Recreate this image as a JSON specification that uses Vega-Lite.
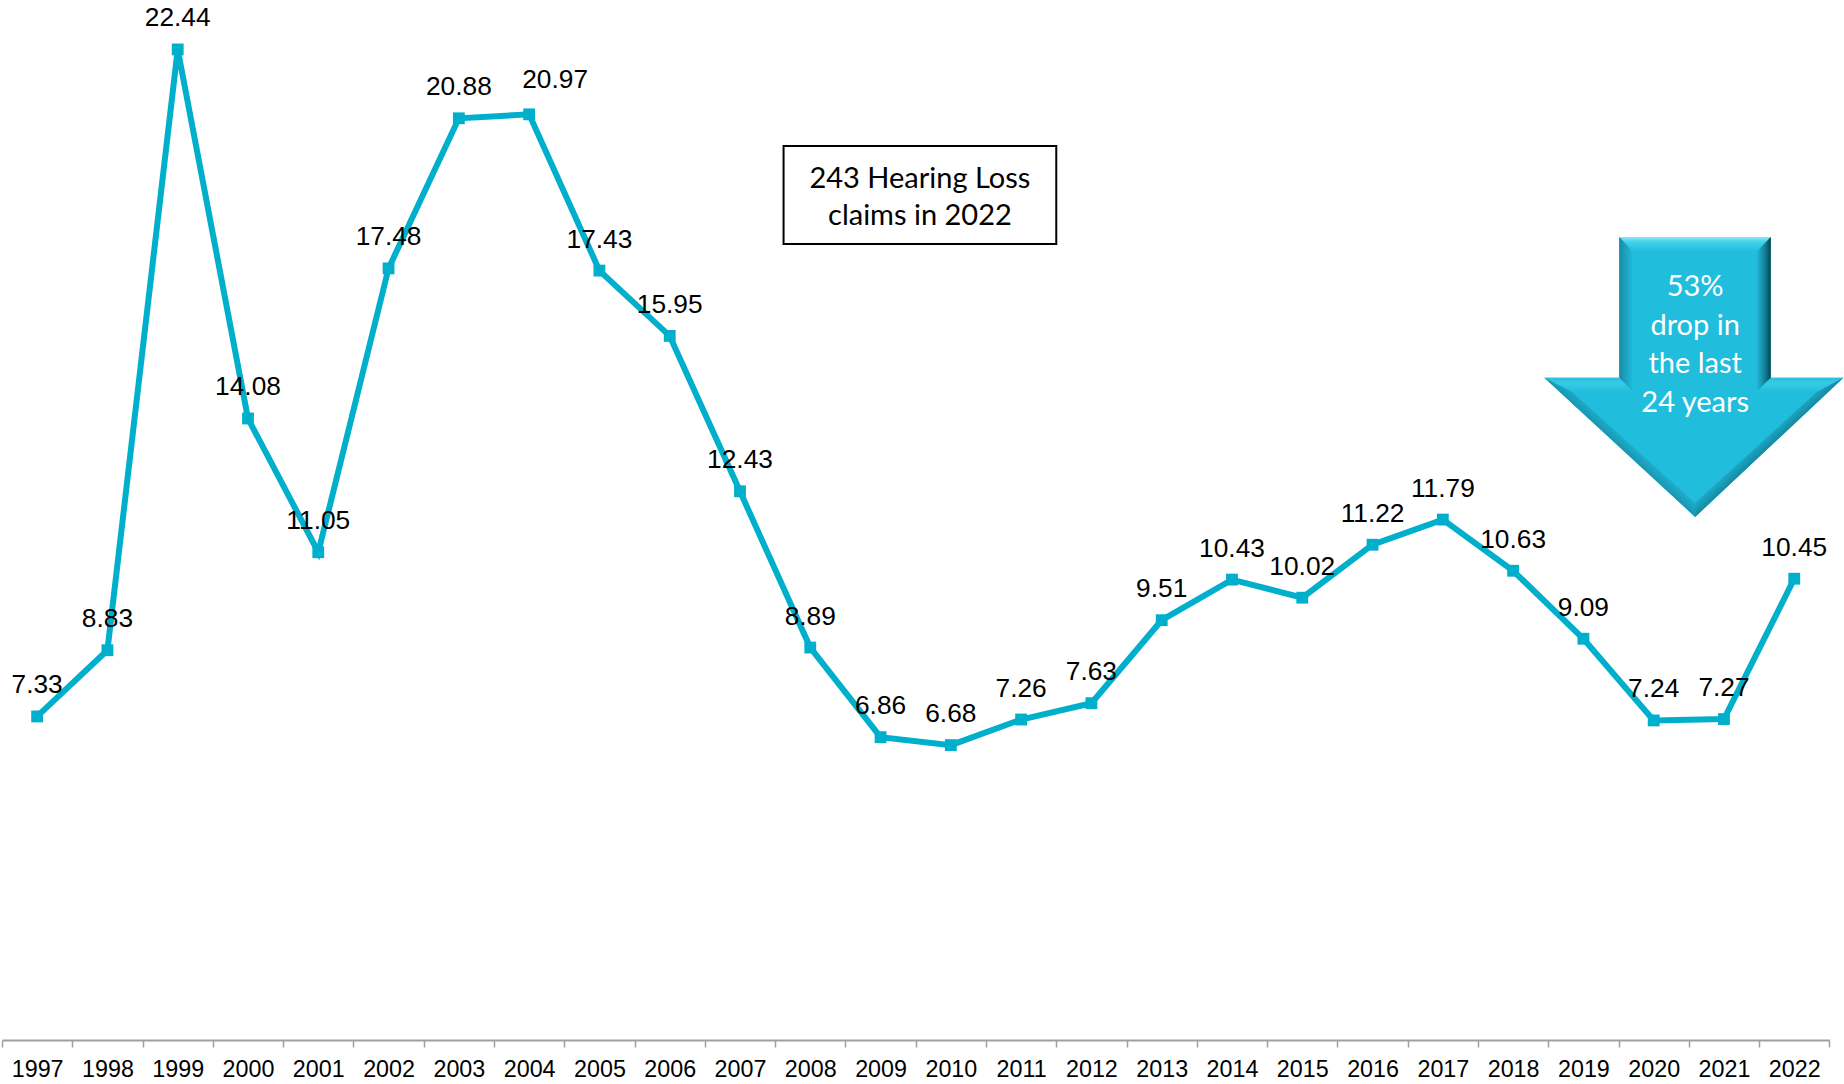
{
"$schema":"https://vega.github.io/schema/vega-lite/v6.json",
"width":1827.4,"height":1040,
"autosize":{"type":"none"},
"padding":{"left":2,"top":0,"right":14.6,"bottom":44},
"background":"white",
"config":{"view":{"stroke":null}},
"datasets":{
"claims":[
{"year":1997,"rate":7.33},{"year":1998,"rate":8.83},{"year":1999,"rate":22.44},{"year":2000,"rate":14.08},{"year":2001,"rate":11.05},{"year":2002,"rate":17.48},{"year":2003,"rate":20.88},{"year":2004,"rate":20.97},{"year":2005,"rate":17.43},{"year":2006,"rate":15.95},{"year":2007,"rate":12.43},{"year":2008,"rate":8.89},{"year":2009,"rate":6.86},{"year":2010,"rate":6.68},{"year":2011,"rate":7.26},{"year":2012,"rate":7.63},{"year":2013,"rate":9.51},{"year":2014,"rate":10.43},{"year":2015,"rate":10.02},{"year":2016,"rate":11.22},{"year":2017,"rate":11.79},{"year":2018,"rate":10.63},{"year":2019,"rate":9.09},{"year":2020,"rate":7.24},{"year":2021,"rate":7.27},{"year":2022,"rate":10.45}],
"arrow":[
{"part":"a_base","i":1,"x":2019.51,"y":18.19},{"part":"a_base","i":2,"x":2021.666,"y":18.19},{"part":"a_base","i":3,"x":2021.666,"y":15.0},{"part":"a_base","i":4,"x":2022.7,"y":15.0},{"part":"a_base","i":5,"x":2020.59,"y":11.85},{"part":"a_base","i":6,"x":2018.444,"y":15.0},{"part":"a_base","i":7,"x":2019.51,"y":15.0},
{"part":"b_top","i":1,"x":2019.51,"y":18.19},{"part":"b_top","i":2,"x":2021.666,"y":18.19},{"part":"b_top","i":3,"x":2021.46,"y":17.85},{"part":"b_top","i":4,"x":2019.71,"y":17.85},
{"part":"c_left","i":1,"x":2019.51,"y":18.19},{"part":"c_left","i":2,"x":2019.71,"y":17.85},{"part":"c_left","i":3,"x":2019.71,"y":14.68},{"part":"c_left","i":4,"x":2019.51,"y":15.0},
{"part":"d_right","i":1,"x":2021.666,"y":18.19},{"part":"d_right","i":2,"x":2021.46,"y":17.85},{"part":"d_right","i":3,"x":2021.46,"y":14.68},{"part":"d_right","i":4,"x":2021.666,"y":15.0},
{"part":"e_wingl","i":1,"x":2018.444,"y":15.0},{"part":"e_wingl","i":2,"x":2019.51,"y":15.0},{"part":"e_wingl","i":3,"x":2019.71,"y":14.68},{"part":"e_wingl","i":4,"x":2018.84,"y":14.68},
{"part":"e_wingr","i":1,"x":2022.7,"y":15.0},{"part":"e_wingr","i":2,"x":2021.666,"y":15.0},{"part":"e_wingr","i":3,"x":2021.46,"y":14.68},{"part":"e_wingr","i":4,"x":2022.32,"y":14.68},
{"part":"f_lowl","i":1,"x":2018.444,"y":15.0},{"part":"f_lowl","i":2,"x":2018.84,"y":14.68},{"part":"f_lowl","i":3,"x":2020.59,"y":12.17},{"part":"f_lowl","i":4,"x":2020.59,"y":11.85},
{"part":"g_lowr","i":1,"x":2022.7,"y":15.0},{"part":"g_lowr","i":2,"x":2022.32,"y":14.68},{"part":"g_lowr","i":3,"x":2020.59,"y":12.17},{"part":"g_lowr","i":4,"x":2020.59,"y":11.85}
]
},
"encoding":{
"x":{"type":"quantitative","scale":{"domain":[1996.5,2022.5],"nice":false,"zero":false},"title":null,
"axis":{"values":[1996.5,1997.5,1998.5,1999.5,2000.5,2001.5,2002.5,2003.5,2004.5,2005.5,2006.5,2007.5,2008.5,2009.5,2010.5,2011.5,2012.5,2013.5,2014.5,2015.5,2016.5,2017.5,2018.5,2019.5,2020.5,2021.5,2022.5],"labelExpr":"datum.value < 2022 ? format(datum.value + 0.5, 'd') : ''","labelOffset":35.14,"labelFlush":false,"labelBound":false,"labelOverlap":false,"labelAngle":0,"labelAlign":"center","labelFont":"Liberation Sans","labelFontSize":23.3,"labelColor":"#000000","labelPadding":29.7,"labelBaseline":"alphabetic","tickColor":"#A0A0A0","tickWidth":1.5,"tickSize":7,"domainColor":"#A0A0A0","domainWidth":2,"grid":false}},
"y":{"type":"quantitative","scale":{"domain":[0,23.56],"nice":false},"axis":null}
},
"layer":[
{"data":{"name":"claims"},"mark":{"type":"line","color":"#00AFCB","strokeWidth":6},
"encoding":{"x":{"field":"year"},"y":{"field":"rate"}}},
{"data":{"name":"claims"},"mark":{"type":"square","size":140,"color":"#00AFCB","opacity":1},
"encoding":{"x":{"field":"year"},"y":{"field":"rate"}}},
{"data":{"name":"claims"},"transform":[{"filter":"datum.year !== 2004"}],"mark":{"type":"text","font":"Liberation Sans","fontSize":26.3,"color":"#000000","dy":-31},
"encoding":{"x":{"field":"year"},"y":{"field":"rate"},"text":{"field":"rate","type":"quantitative","format":".2f"}}},
{"data":{"name":"claims"},"transform":[{"filter":"datum.year === 2004"}],"mark":{"type":"text","font":"Liberation Sans","fontSize":26.3,"color":"#000000","dy":-34,"dx":26},
"encoding":{"x":{"field":"year"},"y":{"field":"rate"},"text":{"field":"rate","type":"quantitative","format":".2f"}}},
{"data":{"values":[{"x1":2007.62,"x2":2011.5,"y1":20.25,"y2":18.03}]},"mark":{"type":"rect","fill":"#FFFFFF","stroke":"#000000","strokeWidth":2},
"encoding":{"x":{"field":"x1"},"x2":{"field":"x2"},"y":{"field":"y1"},"y2":{"field":"y2"}}},
{"data":{"values":[{"t":"243 Hearing Loss","x":2009.56,"y":19.5},{"t":"claims in 2022","x":2009.56,"y":18.66}]},"mark":{"type":"text","font":"Lato","fontSize":29,"color":"#000000","baseline":"middle"},
"encoding":{"x":{"field":"x"},"y":{"field":"y"},"text":{"field":"t"}}},
{"data":{"name":"arrow"},"transform":[{"filter":"datum.part === 'a_base'"}],"mark":{"type":"line","filled":true,"strokeWidth":0,"fill":"#21BDDD"},
"encoding":{"x":{"field":"x"},"y":{"field":"y"},"order":{"field":"i"}}},
{"data":{"name":"arrow"},"transform":[{"filter":"datum.part === 'b_top'"}],"mark":{"type":"line","filled":true,"strokeWidth":0,"fill":{"gradient":"linear","x1":0,"y1":0,"x2":0,"y2":1,"stops":[{"offset":0,"color":"#8FE6F4"},{"offset":0.35,"color":"#3FD0EA"},{"offset":1,"color":"#21BDDD"}]}},
"encoding":{"x":{"field":"x"},"y":{"field":"y"},"order":{"field":"i"}}},
{"data":{"name":"arrow"},"transform":[{"filter":"datum.part === 'c_left'"}],"mark":{"type":"line","filled":true,"strokeWidth":0,"fill":{"gradient":"linear","x1":0,"y1":0,"x2":1,"y2":0,"stops":[{"offset":0,"color":"#148CA6"},{"offset":1,"color":"#21BDDD"}]}},
"encoding":{"x":{"field":"x"},"y":{"field":"y"},"order":{"field":"i"}}},
{"data":{"name":"arrow"},"transform":[{"filter":"datum.part === 'd_right'"}],"mark":{"type":"line","filled":true,"strokeWidth":0,"fill":{"gradient":"linear","x1":0,"y1":0,"x2":1,"y2":0,"stops":[{"offset":0,"color":"#21BDDD"},{"offset":0.6,"color":"#127F97"},{"offset":1,"color":"#084250"}]}},
"encoding":{"x":{"field":"x"},"y":{"field":"y"},"order":{"field":"i"}}},
{"data":{"name":"arrow"},"transform":[{"filter":"datum.part === 'e_wingl' || datum.part === 'e_wingr'"}],"mark":{"type":"line","filled":true,"strokeWidth":0,"fill":{"gradient":"linear","x1":0,"y1":0,"x2":0,"y2":1,"stops":[{"offset":0,"color":"#2DBFDB"},{"offset":0.4,"color":"#35CBE6"},{"offset":1,"color":"#21BDDD"}]}},
"encoding":{"x":{"field":"x"},"y":{"field":"y"},"order":{"field":"i"},"detail":{"field":"part"}}},
{"data":{"name":"arrow"},"transform":[{"filter":"datum.part === 'f_lowl'"}],"mark":{"type":"line","filled":true,"strokeWidth":0,"fill":{"gradient":"linear","x1":0,"y1":1,"x2":1,"y2":0,"stops":[{"offset":0.42,"color":"#0F6F85"},{"offset":0.58,"color":"#21BDDD"}]}},
"encoding":{"x":{"field":"x"},"y":{"field":"y"},"order":{"field":"i"}}},
{"data":{"name":"arrow"},"transform":[{"filter":"datum.part === 'g_lowr'"}],"mark":{"type":"line","filled":true,"strokeWidth":0,"fill":{"gradient":"linear","x1":1,"y1":1,"x2":0,"y2":0,"stops":[{"offset":0.42,"color":"#0A5566"},{"offset":0.58,"color":"#21BDDD"}]}},
"encoding":{"x":{"field":"x"},"y":{"field":"y"},"order":{"field":"i"}}},
{"data":{"values":[{"t":"53%","x":2020.59,"y":17.05},{"t":"drop in","x":2020.59,"y":16.17},{"t":"the last","x":2020.59,"y":15.31},{"t":"24 years","x":2020.59,"y":14.42}]},"mark":{"type":"text","font":"Lato","fontSize":29,"color":"#FFFFFF","baseline":"middle"},
"encoding":{"x":{"field":"x"},"y":{"field":"y"},"text":{"field":"t"}}}
]
}
